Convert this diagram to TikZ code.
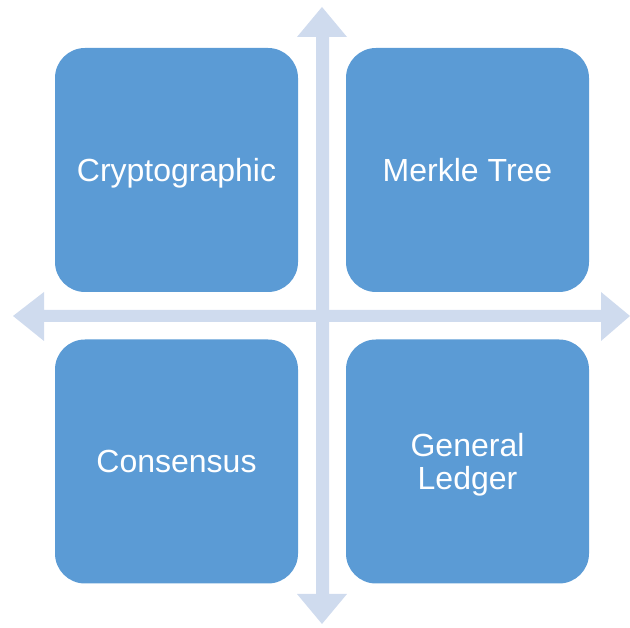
\documentclass[tikz,border=0pt]{standalone}
\usepackage{fontspec}
\setmainfont{Liberation Sans}
\definecolor{tileblue}{HTML}{5B9BD5}
\definecolor{axisblue}{HTML}{CFDBEE}
\begin{document}
\begin{tikzpicture}[x=1pt,y=1pt,
  tile/.style={fill=tileblue, draw=none, rounded corners=30pt,
    minimum width=243pt, minimum height=244pt, inner sep=0pt},
  tiletext/.style={text=white, inner sep=0pt,
    font=\fontsize{32}{33}\selectfont, align=center},
  oneline/.style={tiletext, text height=23pt, text depth=0pt},
  twolines/.style={tiletext, yshift=-3pt}]
  \useasboundingbox (0,0) rectangle (630,628);
  % crossing double-headed axes
  \fill[axisblue] (316,591) -- (297,591) -- (322,621) -- (347,591) -- (329,591)
    -- (329,34) -- (347,34) -- (322,4) -- (297,34) -- (316,34) -- cycle;
  \fill[axisblue] (44,318) -- (44,336) -- (13,312) -- (44,287) -- (44,306)
    -- (601,306) -- (601,287) -- (630,312) -- (601,336) -- (601,318) -- cycle;
  % four quadrant tiles
  \node[tile] (crypto) at (176.5,458) {};
  \node[tile] (merkle) at (467.5,458) {};
  \node[tile] (consensus) at (176.5,166.5) {};
  \node[tile] (ledger) at (467.5,166.5) {};
  % tile captions
  \node[oneline] (cryptotext) at (crypto.center) {Cryptographic};
  \node[oneline] (merkletext) at (merkle.center) {Merkle Tree};
  \node[oneline] (consensustext) at (consensus.center) {Consensus};
  \node[twolines] (ledgertext) at (ledger.center) {General\\Ledger};
\end{tikzpicture}
\end{document}
